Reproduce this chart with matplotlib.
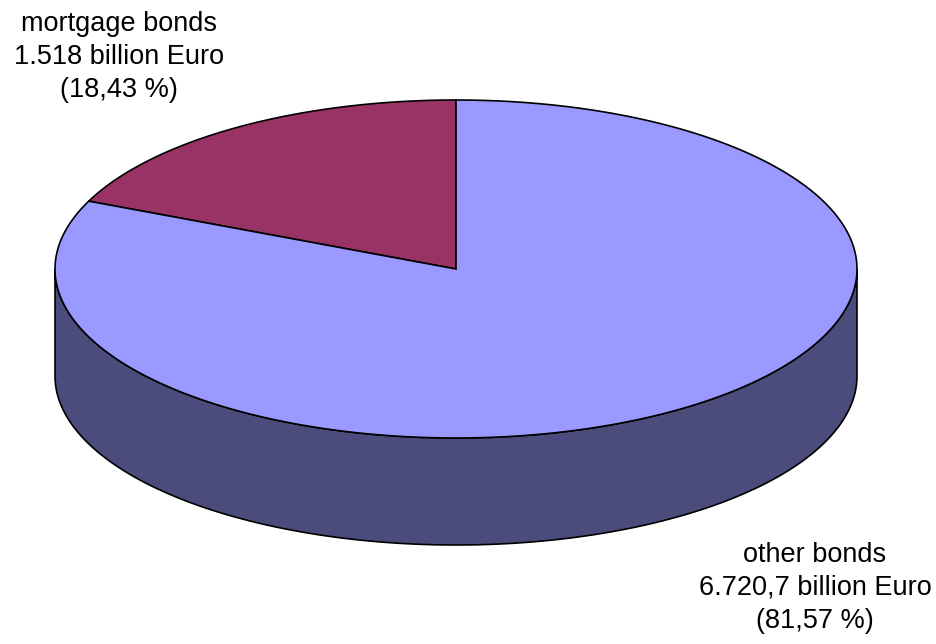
import numpy as np
import matplotlib.pyplot as plt
from matplotlib.patches import Polygon

# DATA
labels = ["mortgage bonds", "other bonds"]
values = [1518.0, 6720.7]
value_text = ["1.518", "6.720,7"]
top_colors = ["#993366", "#9999ff"]
side_colors = ["#4c2033", "#4c4c7c"]

# GEOMETRY (pixel space)
cx, cy = 456, 269
rx, ry = 401, 169
depth = 107


def pt(t, dy=0.0):
    return cx + rx * np.cos(t), cy - ry * np.sin(t) + dy


fig = plt.figure(figsize=(9.37, 6.44), dpi=100)
ax = fig.add_axes([0, 0, 1, 1])
ax.set_xlim(0, 937)
ax.set_ylim(644, 0)
ax.axis("off")

shares = np.array(values) / sum(values)
start = np.pi / 2
bounds = []
for s in shares:
    bounds.append((start, start + 2 * np.pi * s))
    start += 2 * np.pi * s

# side wall: only the front half (pi..2pi) is visible
for (a, b), sc in zip(bounds, side_colors):
    lo, hi = max(a, np.pi), min(b, 2 * np.pi)
    if hi > lo:
        t = np.linspace(lo, hi, 200)
        xs, ys = pt(t)
        xb, yb = pt(t[::-1], depth)
        poly = np.column_stack([np.r_[xs, xb], np.r_[ys, yb]])
        ax.add_patch(Polygon(poly, closed=True, facecolor=sc,
                             edgecolor="black", linewidth=1.2, zorder=1))

# top faces
for (a, b), tc in zip(bounds, top_colors):
    t = np.linspace(a, b, 400)
    xs, ys = pt(t)
    poly = np.column_stack([np.r_[cx, xs], np.r_[cy, ys]])
    ax.add_patch(Polygon(poly, closed=True, facecolor=tc,
                         edgecolor="black", linewidth=1.2, zorder=2))

# labels
font = dict(family="Liberation Sans", fontsize=19.5, ha="center",
            va="center", linespacing=1.33)


def label_text(i):
    p = f"{shares[i] * 100:.2f}".replace(".", ",")
    return f"{labels[i]}\n{value_text[i]} billion Euro\n({p} %)"


ax.text(119, 57, label_text(0), **font)
ax.text(815, 588, label_text(1), **font)

fig.savefig("out.png", dpi=100)
